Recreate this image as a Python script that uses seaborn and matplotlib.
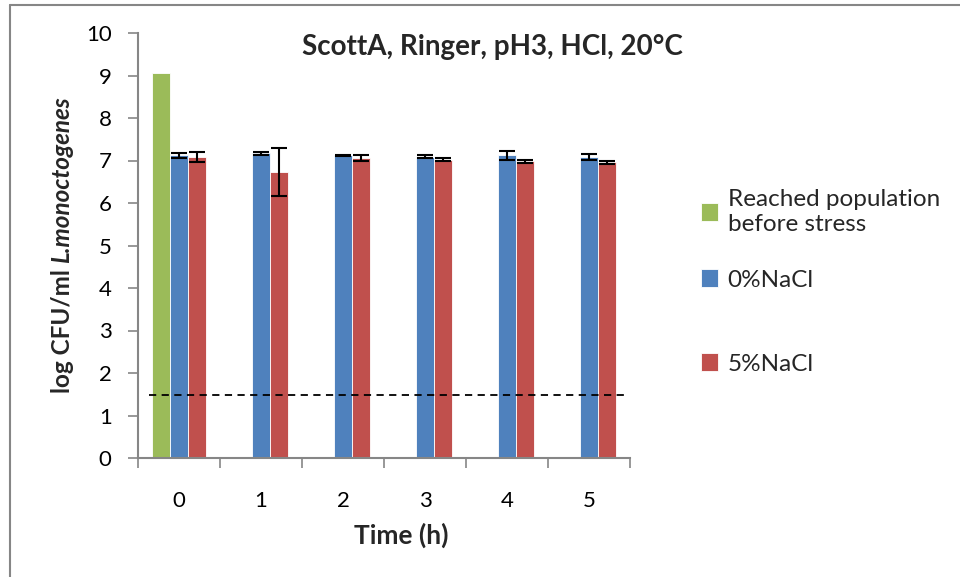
import numpy as np
import pandas as pd
import matplotlib
matplotlib.use("Agg")
import matplotlib.pyplot as plt
from matplotlib.lines import Line2D
import seaborn as sns

hours = ["0", "1", "2", "3", "4", "5"]
series_names = ["Reached population\nbefore stress", "0%NaCl", "5%NaCl"]
reached = [9.07]
nacl0 = [7.12, 7.17, 7.12, 7.09, 7.12, 7.08]
nacl0_err = [0.06, 0.03, 0.01, 0.03, 0.10, 0.07]
nacl5 = [7.09, 6.73, 7.07, 7.02, 6.98, 6.96]
nacl5_err = [0.12, 0.57, 0.07, 0.04, 0.04, 0.04]
detection_limit = 1.48
title = "ScottA, Ringer, pH3, HCl, 20°C"
ylabel_plain = "log CFU/ml "
ylabel_species = "L.monoctogenes"
colors = ["#9BBB59", "#4F81BD", "#C0504D"]

rows = []
rows.append({"Time": hours[0], "Series": series_names[0], "Value": reached[0]})
for h, v in zip(hours, nacl0):
    rows.append({"Time": h, "Series": series_names[1], "Value": v})
for h, v in zip(hours, nacl5):
    rows.append({"Time": h, "Series": series_names[2], "Value": v})
df = pd.DataFrame(rows)

sns.set_theme(style="white")
plt.rcParams["font.family"] = ["Lato", "DejaVu Sans"]

fig = plt.figure(figsize=(9.6, 5.77), dpi=100)
W, H = 960, 577
ax = fig.add_axes([138 / W, 1 - 458 / H, (630 - 138) / W, (458 - 33) / H])

sns.barplot(data=df, x="Time", y="Value", hue="Series", order=hours,
            hue_order=series_names, palette=colors, width=0.66,
            errorbar=None, ax=ax, saturation=1, edgecolor="white", linewidth=0.6)

errs = [None, nacl0_err, nacl5_err]
for cont, err in zip(ax.containers, errs):
    if err is None:
        continue
    xs = [b.get_x() + b.get_width() / 2 for b in cont]
    ys = [b.get_height() for b in cont]
    ax.errorbar(xs, ys, yerr=err, fmt="none", ecolor="black", elinewidth=1.5,
                capsize=5.5, capthick=1.5, zorder=5)

ax.axhline(detection_limit, xmin=(149 - 138) / 492, xmax=(627 - 138) / 492,
           color="black", linestyle=(0, (4, 3)), linewidth=1.3, zorder=6)

ax.set_ylim(0, 10)
ax.set_xlim(-0.5, 5.5)
ax.set_yticks(range(0, 11))
ax.set_xticks([x - 0.5 for x in range(7)], minor=True)
ax.tick_params(axis="x", which="major", length=0, labelsize=16, pad=24, colors="black")
ax.tick_params(axis="x", which="minor", length=7, width=1.2, color="#868686", bottom=True)
ax.tick_params(axis="y", which="major", length=7, width=1.2, color="#868686",
               labelsize=16, left=True, pad=12, labelcolor="black")
for s in ["top", "right"]:
    ax.spines[s].set_visible(False)
for s in ["left", "bottom"]:
    ax.spines[s].set_color("#868686")
    ax.spines[s].set_linewidth(1.5)

ax.set_xlabel("Time (h)", fontsize=19, fontweight="bold")
ax.xaxis.set_label_coords((401 - 138) / 492, (458 - 535) / 425)
ax.xaxis.label.set_va("center")
ax.set_ylabel("")

# y label in two parts: bold upright + bold italic species name
split_x, split_y = 62 / W, 1 - 263 / H
fig.text(split_x, split_y, ylabel_plain, rotation=90, rotation_mode="anchor",
         ha="right", va="center", fontsize=17.5, fontweight="bold")
fig.text(split_x, split_y, ylabel_species, rotation=90, rotation_mode="anchor",
         ha="left", va="center", fontsize=17.5, fontweight="bold", fontstyle="italic")

ax.text((492 - 138) / 492, (458 - 47) / 425, title, transform=ax.transAxes,
        ha="center", va="center", fontsize=20, fontweight="bold")

handles, labels = ax.get_legend_handles_labels()
ax.get_legend().remove()
ys_leg = [212, 280, 364]
for hnd, lab, yl in zip(handles, labels, ys_leg):
    fig.legend([hnd], [lab], loc="center left",
               bbox_to_anchor=(701 / W, 1 - yl / H), frameon=False,
               fontsize=17.5, handlelength=0.7, handleheight=0.7,
               handletextpad=0.4, borderpad=0, borderaxespad=0)

fig.add_artist(Line2D([9.5 / W, 1.0], [1 - 4.5 / H, 1 - 4.5 / H],
                      transform=fig.transFigure, color="#868686", linewidth=1.5))
fig.add_artist(Line2D([9.5 / W, 9.5 / W], [0.0, 1 - 4.5 / H],
                      transform=fig.transFigure, color="#868686", linewidth=1.5))

fig.savefig("out.png", dpi=100)
